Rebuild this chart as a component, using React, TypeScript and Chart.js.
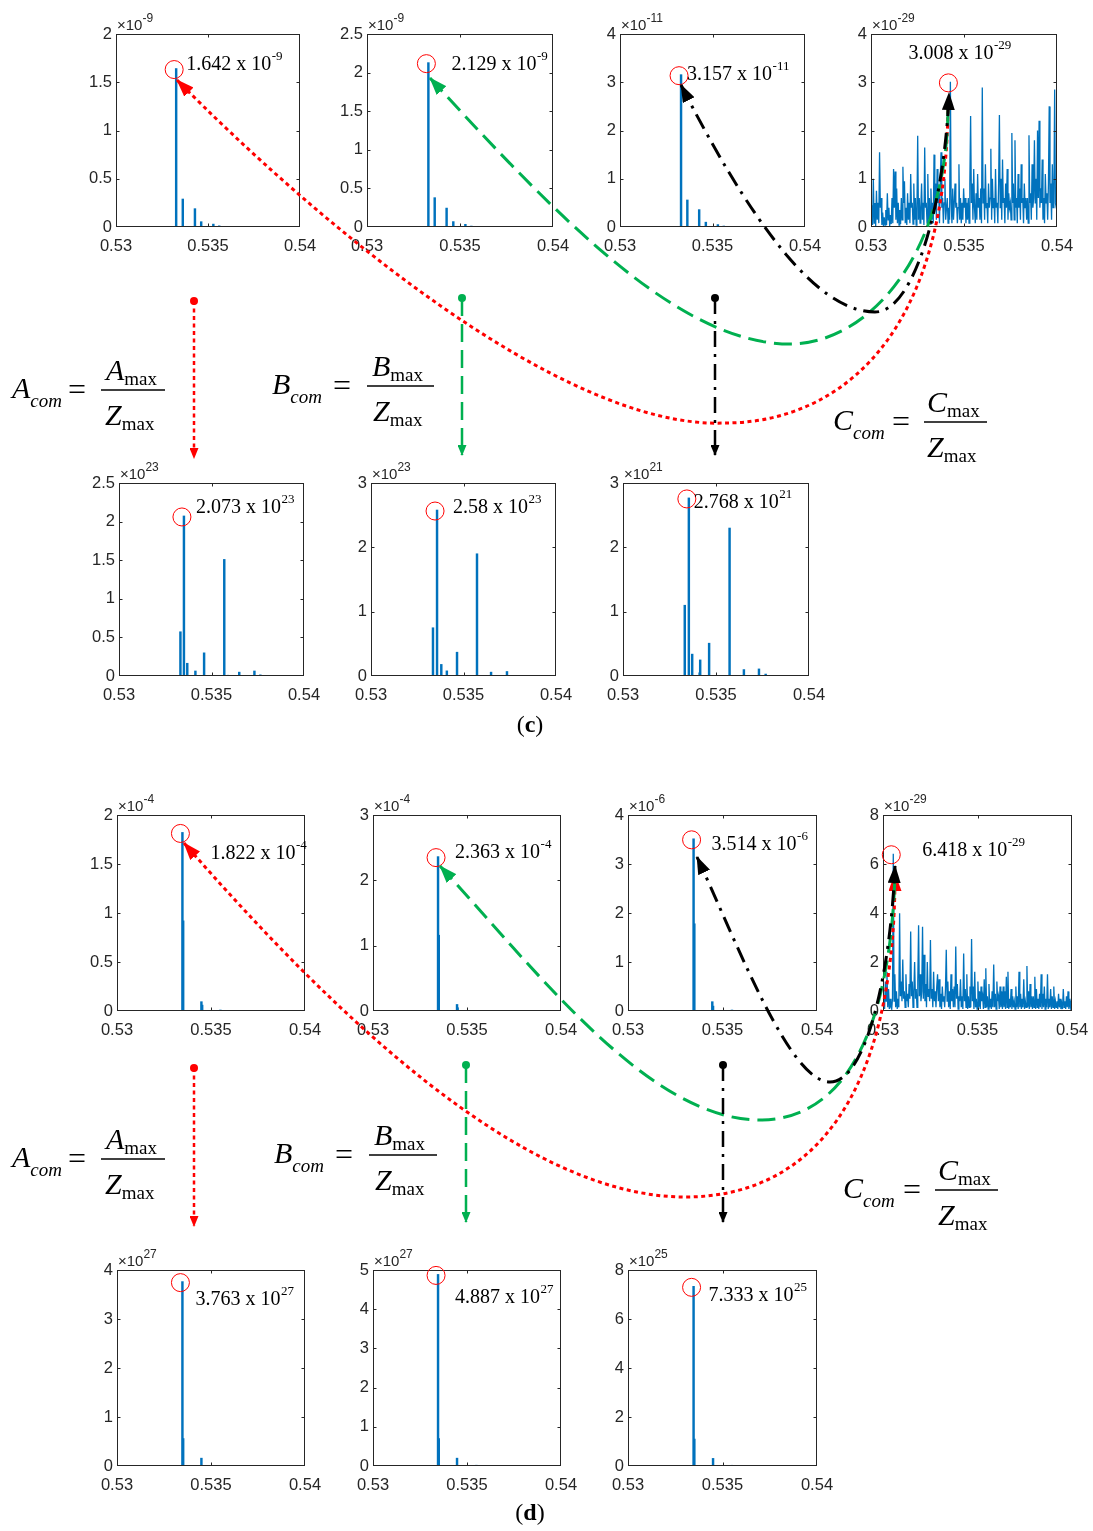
import React, { useEffect, useRef } from "react";
import { Chart, registerables } from "chart.js";
Chart.register(...registerables);

// ---------------- data ----------------
const X_MIN = 0.53;
const X_MAX = 0.54;
const X_TICKS = [0.53, 0.535, 0.54];

// (c) upper row: A, B, C, Z spectra
const cA_freq = [0.53327, 0.53363, 0.53429, 0.53463, 0.53529, 0.53561, 0.5362, 0.5372];
const cA_amp = [1.642, 0.29, 0.19, 0.055, 0.03, 0.012, 0.006, 0.004];
const cB_freq = [0.5333, 0.53364, 0.53428, 0.53464, 0.53529, 0.53561, 0.5362, 0.5372];
const cB_amp = [2.129, 0.38, 0.245, 0.07, 0.035, 0.012, 0.006, 0.004];
const cC_freq = [0.5333, 0.53364, 0.53428, 0.53464, 0.53529, 0.53561];
const cC_amp = [3.157, 0.56, 0.36, 0.1, 0.05, 0.02];
const cZ_noise = [
  0.15, 0.45, 0.04, 1.0, 0.08, 0.5, 0.02, 0.75, 0.15, 0.5,
  0.08, 1.55, 0.4, 0.6, 0.04, 0.3, 0.02, 0.2, 0.04, 0.35,
  0.04, 0.7, 0.15, 0.4, 0.02, 0.25, 0.06, 0.6, 0.08, 1.2,
  0.4, 1.15, 0.15, 0.8, 0.08, 0.5, 0.04, 0.35, 0.06, 0.6,
  0.15, 1.25, 0.5, 0.95, 0.08, 0.4, 0.04, 0.7, 0.15, 0.5,
  0.08, 1.1, 0.4, 0.5, 0.06, 0.9, 0.15, 0.6, 0.04, 0.3,
  1.89, 0.15, 0.6, 0.08, 0.4, 0.9, 0.15, 0.5, 0.04, 1.65,
  0.4, 0.5, 0.08, 1.1, 0.15, 0.6, 0.06, 0.8, 0.15, 0.5,
  0.08, 1.5, 0.4, 0.9, 0.15, 1.2, 0.5, 0.7, 0.08, 1.0,
  1.55, 0.4, 0.6, 0.08, 0.5, 1.0, 0.15, 0.4, 0.6, 0.08,
  0.4, 0.15, 3.008, 0.5, 0.08, 0.8, 0.15, 0.5, 0.9, 0.4,
  0.5, 0.08, 0.4, 1.3, 0.15, 0.6, 0.08, 0.5, 0.15, 0.8,
  0.4, 0.6, 0.08, 0.5, 0.15, 0.6, 0.08, 0.9, 2.3, 0.5,
  0.9, 0.15, 1.2, 0.4, 0.08, 0.7, 0.15, 1.1, 0.4, 0.6,
  0.15, 0.8, 0.08, 2.89, 0.5, 0.8, 0.15, 1.3, 0.4, 0.5,
  0.08, 0.9, 0.4, 0.6, 1.62, 0.15, 1.0, 0.4, 0.6, 0.08,
  1.2, 0.4, 0.5, 0.08, 0.9, 2.32, 0.4, 1.0, 0.15, 1.4,
  0.5, 0.6, 0.08, 0.9, 0.4, 1.2, 0.15, 0.7, 0.4, 0.5,
  0.15, 1.95, 0.5, 0.9, 0.15, 1.8, 0.4, 0.6, 0.08, 1.1,
  0.4, 0.8, 0.15, 1.3, 0.5, 0.6, 0.08, 0.9, 0.4, 0.6,
  0.15, 0.6, 0.08, 1.9, 0.5, 0.7, 0.15, 1.3, 0.4, 0.6,
  1.8, 0.5, 1.0, 0.15, 2.0, 0.6, 2.2, 0.4, 0.8, 0.5,
  1.4, 0.15, 0.6, 0.08, 1.1, 0.5, 0.7, 0.15, 0.9, 2.5,
  0.5, 0.9, 0.15, 1.3, 0.4, 0.6, 2.85, 0.5, 0.4, 0.35,
];

// (c) lower row: A_com, B_com, C_com spectra
const cAcom_freq = [0.53332, 0.53351, 0.53369, 0.53413, 0.5346, 0.53569, 0.53589, 0.5365, 0.53732, 0.53764];
const cAcom_amp = [0.573, 2.073, 0.165, 0.065, 0.3, 1.51, 0.01, 0.05, 0.065, 0.015];
const cBcom_freq = [0.53335, 0.53357, 0.5338, 0.5341, 0.53465, 0.53573, 0.53649, 0.53735];
const cBcom_amp = [0.75, 2.58, 0.18, 0.08, 0.37, 1.9, 0.06, 0.07];
const cCcom_freq = [0.53129, 0.53332, 0.53354, 0.53372, 0.53412, 0.53415, 0.53463, 0.53573, 0.5365, 0.53731, 0.53767];
const cCcom_amp = [0.01, 1.1, 2.768, 0.34, 0.05, 0.25, 0.51, 2.3, 0.1, 0.11, 0.03];

// (d) upper row
const dA_freq = [0.53348, 0.53352, 0.53449, 0.53453, 0.5355, 0.5365];
const dA_amp = [1.822, 0.92, 0.095, 0.06, 0.01, 0.005];
const dB_freq = [0.53346, 0.5335, 0.53447, 0.5345, 0.5355];
const dB_amp = [2.363, 1.16, 0.1, 0.05, 0.01];
const dC_freq = [0.53347, 0.53351, 0.53446, 0.5345, 0.5355];
const dC_amp = [3.514, 1.78, 0.19, 0.1, 0.02];
const dZ_noise = [
  0.15, 0.6, 0.08, 1.2, 0.4, 1.6, 0.15, 0.9, 0.08, 0.5,
  0.15, 0.08, 0.5, 6.418, 0.4, 1.5, 0.15, 0.8, 0.08, 0.5,
  0.15, 3.99, 0.6, 1.2, 0.4, 2.1, 0.5, 0.8, 0.15, 1.5,
  0.4, 0.7, 0.15, 1.1, 0.5, 3.24, 0.6, 1.2, 0.15, 0.8,
  2.0, 0.5, 0.9, 0.15, 1.2, 3.5, 0.6, 1.5, 0.4, 0.8,
  3.44, 0.5, 2.3, 0.4, 1.1, 0.15, 2.0, 0.6, 0.9, 0.4,
  2.9, 0.5, 0.9, 0.15, 1.6, 0.4, 0.8, 0.15, 1.0, 1.5,
  0.4, 1.3, 0.15, 0.7, 0.08, 1.0, 0.4, 0.6, 0.15, 0.9,
  2.5, 0.4, 1.2, 0.15, 0.8, 0.08, 1.5, 0.4, 0.9, 0.15,
  1.0, 0.15, 2.63, 0.5, 1.1, 0.08, 0.6, 0.4, 1.3, 0.15,
  0.6, 0.08, 2.35, 0.4, 0.9, 0.15, 1.5, 0.08, 0.6, 0.15,
  1.0, 0.15, 2.94, 0.4, 1.0, 0.08, 1.6, 0.15, 0.5, 0.08,
  1.2, 0.15, 0.8, 0.08, 1.0, 0.4, 0.6, 0.08, 1.3, 0.15,
  1.74, 0.15, 0.6, 0.08, 1.1, 0.15, 0.5, 0.08, 0.8, 0.15,
  1.9, 0.15, 0.7, 0.08, 1.2, 0.4, 0.6, 0.08, 1.0, 0.15,
  0.8, 0.08, 1.0, 0.15, 0.8, 0.08, 1.4, 0.15, 1.6, 0.08,
  0.5, 0.15, 0.9, 0.08, 0.6, 0.15, 0.4, 0.08, 1.0, 0.15,
  0.6, 0.08, 1.6, 0.15, 0.7, 0.08, 0.5, 0.15, 1.3, 0.08,
  0.4, 0.15, 1.84, 0.15, 0.8, 0.08, 1.1, 0.15, 0.6, 0.08,
  0.6, 0.15, 1.4, 0.08, 0.9, 0.15, 0.5, 0.08, 0.7, 0.15,
  1.5, 0.08, 0.7, 0.15, 1.0, 0.08, 0.5, 0.15, 1.5, 0.08,
  0.5, 0.15, 0.9, 0.08, 0.6, 0.15, 1.0, 0.08, 0.4, 0.15,
  0.4, 0.08, 0.7, 0.15, 0.5, 0.08, 0.3, 0.08, 0.9, 0.15,
  0.4, 0.08, 0.6, 0.15, 0.8, 0.08, 0.5, 0.15, 0.4, 0.15,
];

// (d) lower row
const dAcom_freq = [0.53348, 0.53352, 0.53449, 0.5355];
const dAcom_amp = [3.763, 0.56, 0.16, 0.01];
const dBcom_freq = [0.53346, 0.5335, 0.53447, 0.5355];
const dBcom_amp = [4.887, 0.7, 0.2, 0.02];
const dCcom_freq = [0.53347, 0.53351, 0.5345, 0.5355];
const dCcom_amp = [7.333, 1.1, 0.31, 0.03];

// ---------------- styling ----------------
const PAD_L = 50;
const PAD_R = 30;
const PAD_T = 30;
const PAD_B = 34;
const BLUE = "#0072BD";
const AXIS = "#262626";
const SANS = '"Liberation Sans", Arial, Helvetica, sans-serif';
const SERIF = '"Liberation Serif", "Times New Roman", Times, serif';
const TICK_FONT = 16.5;

interface PlotSpec {
  box: [number, number, number, number];
  yMax: number;
  yStep: number;
  exp: string;
  freq?: number[];
  amp?: number[];
  noise?: number[];
  mant: string;
  sup: string;
  ldx: number;
  ldy: number;
}

const PLOTS: PlotSpec[] = [
  { box: [116, 34, 184, 193], yMax: 2, yStep: 0.5, exp: "-9", freq: cA_freq, amp: cA_amp, mant: "1.642 x 10", sup: "-9", ldx: 10, ldy: -4 },
  { box: [367, 34, 186, 193], yMax: 2.5, yStep: 0.5, exp: "-9", freq: cB_freq, amp: cB_amp, mant: "2.129 x 10", sup: "-9", ldx: 23, ldy: 2 },
  { box: [620, 34, 185, 193], yMax: 4, yStep: 1, exp: "-11", freq: cC_freq, amp: cC_amp, mant: "3.157 x 10", sup: "-11", ldx: 6, ldy: 0 },
  { box: [871, 34, 186, 193], yMax: 4, yStep: 1, exp: "-29", noise: cZ_noise, mant: "3.008 x 10", sup: "-29", ldx: -42, ldy: -28 },
  { box: [119, 483, 185, 193], yMax: 2.5, yStep: 0.5, exp: "23", freq: cAcom_freq, amp: cAcom_amp, mant: "2.073 x 10", sup: "23", ldx: 12, ldy: -8 },
  { box: [371, 483, 185, 193], yMax: 3, yStep: 1, exp: "23", freq: cBcom_freq, amp: cBcom_amp, mant: "2.58 x 10", sup: "23", ldx: 16, ldy: -2 },
  { box: [623, 483, 186, 193], yMax: 3, yStep: 1, exp: "21", freq: cCcom_freq, amp: cCcom_amp, mant: "2.768 x 10", sup: "21", ldx: 5, ldy: 5 },
  { box: [117, 815, 188, 196], yMax: 2, yStep: 0.5, exp: "-4", freq: dA_freq, amp: dA_amp, mant: "1.822 x 10", sup: "-4", ldx: 28, ldy: 21 },
  { box: [373, 815, 188, 196], yMax: 3, yStep: 1, exp: "-4", freq: dB_freq, amp: dB_amp, mant: "2.363 x 10", sup: "-4", ldx: 17, ldy: -4 },
  { box: [628, 815, 189, 196], yMax: 4, yStep: 1, exp: "-6", freq: dC_freq, amp: dC_amp, mant: "3.514 x 10", sup: "-6", ldx: 18, ldy: 6 },
  { box: [883, 815, 189, 196], yMax: 8, yStep: 2, exp: "-29", noise: dZ_noise, mant: "6.418 x 10", sup: "-29", ldx: 29, ldy: -3 },
  { box: [117, 1270, 188, 196], yMax: 4, yStep: 1, exp: "27", freq: dAcom_freq, amp: dAcom_amp, mant: "3.763 x 10", sup: "27", ldx: 13, ldy: 18 },
  { box: [373, 1270, 188, 196], yMax: 5, yStep: 1, exp: "27", freq: dBcom_freq, amp: dBcom_amp, mant: "4.887 x 10", sup: "27", ldx: 17, ldy: 23 },
  { box: [628, 1270, 189, 196], yMax: 8, yStep: 2, exp: "25", freq: dCcom_freq, amp: dCcom_amp, mant: "7.333 x 10", sup: "25", ldx: 15, ldy: 9 },
];

const fmt = (v: number) => String(+Number(v).toFixed(4));

function SpectrumPlot({ spec }: { spec: PlotSpec }) {
  const ref = useRef<HTMLCanvasElement>(null);
  const [bl, bt, bw, bh] = spec.box;
  const W = bw + PAD_L + PAD_R;
  const H = bh + PAD_T + PAD_B;

  useEffect(() => {
    if (!ref.current) return;
    const yTicks = Array.from({ length: Math.round(spec.yMax / spec.yStep) + 1 }, (_, i) => +(i * spec.yStep).toFixed(3));
    const datasets: any[] = [];
    let peakX = 0;
    let peakY = -1;
    if (spec.noise) {
      const n = spec.noise.length;
      const pts = spec.noise.map((v, i) => ({ x: X_MIN + ((X_MAX - X_MIN) * i) / (n - 1), y: v }));
      pts.forEach((p) => { if (p.y > peakY) { peakY = p.y; peakX = p.x; } });
      datasets.push({ type: "line", data: pts, borderColor: BLUE, borderWidth: 1.3, pointRadius: 0, tension: 0 });
    } else {
      const pts = spec.freq!.map((f, i) => ({ x: f, y: spec.amp![i] }));
      pts.forEach((p) => { if (p.y > peakY) { peakY = p.y; peakX = p.x; } });
      datasets.push({ type: "line", data: [{ x: X_MIN, y: 0 }, { x: X_MAX, y: 0 }], borderColor: BLUE, borderWidth: 1.5, pointRadius: 0 });
      datasets.push({ type: "bar", data: pts, backgroundColor: BLUE, borderWidth: 0, barThickness: 1.8, grouped: false });
    }

    const deco = {
      id: "deco",
      afterDraw(chart: any) {
        const ctx = chart.ctx as CanvasRenderingContext2D;
        const a = chart.chartArea;
        const xs = chart.scales.x;
        const ys = chart.scales.y;
        ctx.save();
        // box with inward ticks
        ctx.strokeStyle = AXIS;
        ctx.lineWidth = 1;
        const L = Math.round(a.left) + 0.5;
        const R = Math.round(a.right) - 0.5;
        const T = Math.round(a.top) + 0.5;
        const B = Math.round(a.bottom) - 0.5;
        ctx.strokeRect(L, T, R - L, B - T);
        ctx.beginPath();
        X_TICKS.forEach((v) => {
          const p = Math.min(R, Math.max(L, Math.round(xs.getPixelForValue(v)) + 0.5));
          ctx.moveTo(p, B); ctx.lineTo(p, B - 3);
          ctx.moveTo(p, T); ctx.lineTo(p, T + 3);
        });
        yTicks.forEach((v) => {
          const p = Math.min(B, Math.max(T, Math.round(ys.getPixelForValue(v)) + 0.5));
          ctx.moveTo(L, p); ctx.lineTo(L + 3, p);
          ctx.moveTo(R, p); ctx.lineTo(R - 3, p);
        });
        ctx.stroke();
        // exponent label
        ctx.fillStyle = AXIS;
        ctx.textBaseline = "alphabetic";
        ctx.textAlign = "left";
        ctx.font = `15px ${SANS}`;
        ctx.fillText("\u00d710", a.left + 1, a.top - 4);
        const w2 = ctx.measureText("\u00d710").width;
        ctx.font = `12px ${SANS}`;
        ctx.fillText(spec.exp, a.left + 1 + w2, a.top - 12);
        // peak circle and value
        const px = xs.getPixelForValue(peakX);
        const py = ys.getPixelForValue(peakY);
        ctx.strokeStyle = "#FF0000";
        ctx.lineWidth = 1;
        ctx.beginPath();
        ctx.arc(px - 2, py + 1, 9, 0, Math.PI * 2);
        ctx.stroke();
        ctx.fillStyle = "#000";
        ctx.font = `20px ${SERIF}`;
        ctx.textBaseline = "middle";
        const lx = px + spec.ldx;
        const ly = py + spec.ldy;
        ctx.fillText(spec.mant, lx, ly);
        const w = ctx.measureText(spec.mant).width;
        ctx.font = `13px ${SERIF}`;
        ctx.fillText(spec.sup, lx + w + 0.5, ly - 8);
        ctx.restore();
      },
    };

    const chart = new Chart(ref.current, {
      type: "bar",
      data: { datasets },
      options: {
        responsive: false,
        animation: false,
        events: [],
        layout: { padding: { top: PAD_T, right: PAD_R, left: 0, bottom: 0 } },
        plugins: { legend: { display: false }, tooltip: { enabled: false } },
        scales: {
          x: {
            type: "linear",
            min: X_MIN,
            max: X_MAX,
            offset: false,
            grid: { display: false, drawTicks: false },
            border: { display: false },
            ticks: {
              font: { family: SANS, size: TICK_FONT },
              color: AXIS,
              padding: 10,
              maxRotation: 0,
              autoSkip: false,
              callback: (v: any) => fmt(v),
            },
            afterBuildTicks: (s: any) => { s.ticks = X_TICKS.map((v) => ({ value: v })); },
            afterFit: (s: any) => { s.height = PAD_B; },
          },
          y: {
            type: "linear",
            min: 0,
            max: spec.yMax,
            grid: { display: false, drawTicks: false },
            border: { display: false },
            ticks: {
              font: { family: SANS, size: TICK_FONT },
              color: AXIS,
              padding: 4,
              autoSkip: false,
              callback: (v: any) => fmt(v),
            },
            afterBuildTicks: (s: any) => { s.ticks = yTicks.map((v) => ({ value: v })); },
            afterFit: (s: any) => { s.width = PAD_L; },
          },
        },
      } as any,
      plugins: [deco],
    });
    return () => chart.destroy();
  }, [spec]);

  return (
    <canvas
      ref={ref}
      width={W}
      height={H}
      style={{ position: "absolute", left: bl - PAD_L, top: bt - PAD_T, width: W, height: H }}
    />
  );
}

// ---------------- overlay (arrows, formulas, panel labels) ----------------
const RED = "#FF0000";
const GREEN = "#00B050";
const BLACK = "#000000";
const DASH = { red: "4 3.5", green: "18 8", black: "16 7 3 7" };

const CURVES = [
  { d: "M177,80 C310,215 560,430 725,423 C820,423 948,360 948,100", c: "red", start: true, end: false },
  { d: "M430,78 C560,220 680,344 790,344 C865,344 948,260 948,105", c: "green", start: true, end: false },
  { d: "M681,85 C770,260 830,312 875,312 C915,312 945,200 949,93", c: "black", start: true, end: true },
  { d: "M184,843 C330,1010 520,1197 685,1197 C810,1197 895,1100 895,874", c: "red", start: true, end: true },
  { d: "M440,866 C540,975 650,1120 760,1120 C840,1120 890,1040 895,874", c: "green", start: true, end: false },
  { d: "M697,857 C740,950 790,1082 830,1082 C865,1082 890,980 895,866", c: "black", start: true, end: true },
];

const VARROWS = [
  { x: 194, y1: 301, y2: 458, c: "red" },
  { x: 462, y1: 298, y2: 455, c: "green" },
  { x: 715, y1: 298, y2: 455, c: "black" },
  { x: 194, y1: 1068, y2: 1226, c: "red" },
  { x: 466, y1: 1065, y2: 1222, c: "green" },
  { x: 723, y1: 1065, y2: 1222, c: "black" },
];

const FORMULAS = [
  { L: "A", x0: 12, bar: 390, eqX: 68, b1: 101, b2: 165, numX: 106, denX: 105 },
  { L: "B", x0: 272, bar: 386, eqX: 333, b1: 367, b2: 434, numX: 372, denX: 373 },
  { L: "C", x0: 833, bar: 422, eqX: 892, b1: 924, b2: 987, numX: 927, denX: 927 },
  { L: "A", x0: 12, bar: 1159, eqX: 68, b1: 101, b2: 165, numX: 106, denX: 105 },
  { L: "B", x0: 274, bar: 1155, eqX: 335, b1: 369, b2: 437, numX: 374, denX: 375 },
  { L: "C", x0: 843, bar: 1190, eqX: 903, b1: 935, b2: 998, numX: 938, denX: 938 },
];

const COL: Record<string, string> = { red: RED, green: GREEN, black: BLACK };

function Overlay() {
  return (
    <svg
      width={1093}
      height={1531}
      style={{ position: "absolute", left: 0, top: 0, pointerEvents: "none" }}
    >
      <defs>
        {Object.keys(COL).map((k) => (
          <marker
            key={k}
            id={`big-${k}`}
            markerUnits="userSpaceOnUse"
            viewBox="0 0 18 13"
            markerWidth={18}
            markerHeight={13}
            refX={17}
            refY={6.5}
            orient="auto-start-reverse"
          >
            <path d="M0,0 L18,6.5 L0,13 z" fill={COL[k]} />
          </marker>
        ))}
        {Object.keys(COL).map((k) => (
          <marker
            key={"s" + k}
            id={`small-${k}`}
            markerUnits="userSpaceOnUse"
            viewBox="0 0 11 9"
            markerWidth={11}
            markerHeight={9}
            refX={10}
            refY={4.5}
            orient="auto-start-reverse"
          >
            <path d="M0,0 L11,4.5 L0,9 z" fill={COL[k]} />
          </marker>
        ))}
      </defs>
      {CURVES.map((cv, i) => (
        <path
          key={i}
          d={cv.d}
          fill="none"
          stroke={COL[cv.c]}
          strokeWidth={3}
          strokeDasharray={(DASH as any)[cv.c]}
          markerStart={cv.start ? `url(#big-${cv.c})` : undefined}
          markerEnd={cv.end ? `url(#big-${cv.c})` : undefined}
        />
      ))}
      {VARROWS.map((a, i) => (
        <g key={i}>
          <path
            d={`M${a.x},${a.y1} L${a.x},${a.y2}`}
            fill="none"
            stroke={COL[a.c]}
            strokeWidth={2.5}
            strokeDasharray={(DASH as any)[a.c]}
            markerEnd={`url(#small-${a.c})`}
          />
          <circle cx={a.x} cy={a.y1} r={4} fill={COL[a.c]} />
        </g>
      ))}
      {FORMULAS.map((f, i) => (
        <g key={i} fontFamily={SERIF} fill="#000">
          <text x={f.x0} y={f.bar + 8} fontSize={30} fontStyle="italic">
            {f.L}
            <tspan fontSize={19} dy={9}>com</tspan>
          </text>
          <text x={f.eqX} y={f.bar + 10} fontSize={32}>=</text>
          <line x1={f.b1} x2={f.b2} y1={f.bar} y2={f.bar} stroke="#000" strokeWidth={1.3} />
          <text x={f.numX} y={f.bar - 10} fontSize={30} fontStyle="italic">
            {f.L}
            <tspan fontSize={19} fontStyle="normal" dy={5}>max</tspan>
          </text>
          <text x={f.denX} y={f.bar + 35} fontSize={30} fontStyle="italic">
            Z
            <tspan fontSize={19} fontStyle="normal" dy={5}>max</tspan>
          </text>
        </g>
      ))}
      <text x={530} y={732} textAnchor="middle" fontFamily={SERIF} fontSize={24} fill="#000">
        (<tspan fontWeight="bold">c</tspan>)
      </text>
      <text x={530} y={1520} textAnchor="middle" fontFamily={SERIF} fontSize={24} fill="#000">
        (<tspan fontWeight="bold">d</tspan>)
      </text>
    </svg>
  );
}

export default function App() {
  return (
    <div
      style={{
        position: "absolute",
        left: 0,
        top: 0,
        width: 1093,
        height: 1531,
        background: "#fff",
        overflow: "hidden",
      }}
    >
      {PLOTS.map((p, i) => (
        <SpectrumPlot key={i} spec={p} />
      ))}
      <Overlay />
    </div>
  );
}
